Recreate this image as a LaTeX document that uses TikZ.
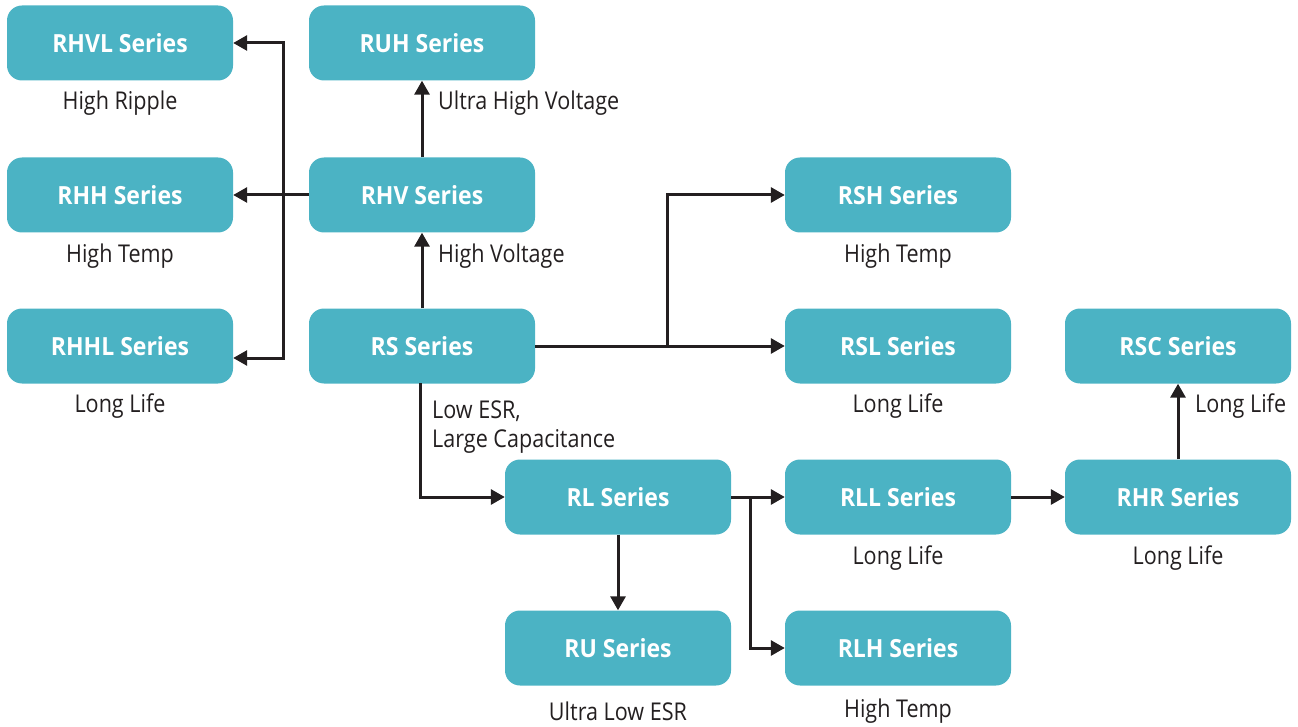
\documentclass[tikz,border=0pt]{standalone}
\usepackage{fontspec}
\setmainfont{Open Sans}
\newfontfamily\boxfont[FakeStretch=0.92]{Open Sans Bold}
\newfontfamily\lblfont[FakeStretch=0.88]{Open Sans}
\usetikzlibrary{arrows.meta}
\definecolor{teal1}{HTML}{4BB3C4}
\definecolor{ink}{HTML}{231F20}
\tikzset{
  series/.style={draw=none, fill=teal1, rounded corners=15pt, minimum width=226pt, minimum height=75pt,
    text=white, font=\boxfont\fontsize{25}{29}\selectfont, inner sep=0pt},
  lbl/.style={text=ink, font=\lblfont\fontsize{24.5}{29}\selectfont, inner sep=0pt},
  conn/.style={draw=ink, line width=3pt},
  arr/.style={conn, -{Triangle[length=14pt,width=15pt]}},
}
\begin{document}
\begin{tikzpicture}[x=1pt,y=-1pt]
\useasboundingbox (0,0) rectangle (1298,727);
% boxes
\node[series] (rhvl) at (120,43) {RHVL Series};
\node[series] (ruh) at (422,43) {RUH Series};
\node[series] (rhh) at (120,195) {RHH Series};
\node[series] (rhv) at (422,195) {RHV Series};
\node[series] (rsh) at (898,195) {RSH Series};
\node[series] (rhhl) at (120,346) {RHHL Series};
\node[series] (rs) at (422,346) {RS Series};
\node[series] (rsl) at (898,346) {RSL Series};
\node[series] (rsc) at (1178,346) {RSC Series};
\node[series] (rl) at (618,497) {RL Series};
\node[series] (rll) at (898,497) {RLL Series};
\node[series] (rhr) at (1178,497) {RHR Series};
\node[series] (ru) at (618,648) {RU Series};
\node[series] (rlh) at (898,648) {RLH Series};
% labels under boxes
\node[lbl] (l1) at (120,103) {High Ripple};
\node[lbl] (l2) at (120,256) {High Temp};
\node[lbl] (l3) at (120,406) {Long Life};
\node[lbl] (l4) at (898,256) {High Temp};
\node[lbl] (l5) at (898,406) {Long Life};
\node[lbl] (l6) at (898,558) {Long Life};
\node[lbl] (l7) at (1178,558) {Long Life};
\node[lbl] (l8) at (618,711) {Ultra Low ESR};
\node[lbl] (l9) at (898,711) {High Temp};
% labels beside arrows
\node[lbl, anchor=west] (a1) at (438,103) {Ultra High Voltage};
\node[lbl, anchor=west] (a2) at (438,256) {High Voltage};
\node[lbl, anchor=west, align=left] (a3) at (432,427) {Low ESR,\\Large Capacitance};
\node[lbl, anchor=west] (a4) at (1195,406) {Long Life};
% connectors
\coordinate (bus) at (283,195);
\coordinate (bend) at (283,358);
\draw[arr] (rhv.west) -- (rhh.east);
\draw[arr] (bus) |- (rhvl.east);
\draw[arr] (bus) -- (bend) -- (rhhl.east |- bend);
\draw[arr] (rhv.north) -- (ruh.south);
\draw[arr] (rs.north) -- (rhv.south);
\coordinate (br1) at (667,346);
\draw[arr] (rs.east) -- (rsl.west);
\draw[arr] (br1) |- (rsh.west);
\coordinate (rsdown) at (420,383);
\draw[arr] (rsdown) |- (rl.west);
\draw[arr] (rl.south) -- (ru.north);
\draw[arr] (rl.east) -- (rll.west);
\coordinate (br2) at (750,497);
\draw[arr] (br2) |- (rlh.west);
\draw[arr] (rll.east) -- (rhr.west);
\draw[arr] (rhr.north) -- (rsc.south);
\end{tikzpicture}
\end{document}
